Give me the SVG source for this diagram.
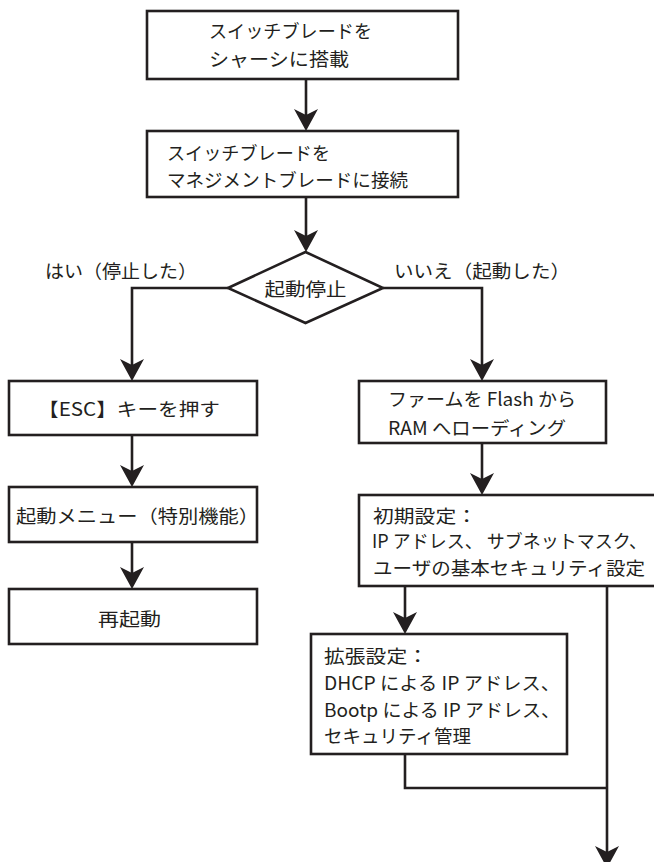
<svg xmlns="http://www.w3.org/2000/svg" width="654" height="862" viewBox="0 0 654 862">
<style>
.box{fill:#fff;stroke:#231f20;stroke-width:2.6}
.t{font-family:"Noto Sans CJK JP","Noto Sans",sans-serif;font-size:18.5px;fill:#231f20}
.c{fill:none;stroke:#231f20;stroke-width:2.6}
</style>
<defs>
<marker id="ah" markerUnits="userSpaceOnUse" viewBox="-12 -13 26 26" markerWidth="26" markerHeight="26" refX="0" refY="0" orient="auto">
<path d="M12,0 L-10,-12 L-4,0 L-10,12 Z" fill="#231f20"/>
</marker>
</defs>
<rect width="654" height="862" fill="#fff"/>
<g id="connectors">
<path class="c" d="M306,79 V119" marker-end="url(#ah)"/>
<path class="c" d="M306,197 V240" marker-end="url(#ah)"/>
<path class="c" d="M228,288 H132 V369" marker-end="url(#ah)"/>
<path class="c" d="M383,288 H482 V369" marker-end="url(#ah)"/>
<path class="c" d="M132,435 V475" marker-end="url(#ah)"/>
<path class="c" d="M132,542 V577" marker-end="url(#ah)"/>
<path class="c" d="M482,443 V483" marker-end="url(#ah)"/>
<path class="c" d="M405,586 V622" marker-end="url(#ah)"/>
<path class="c" d="M607,586 V856" marker-end="url(#ah)"/>
<path class="c" d="M405,754 V788 H607"/>
</g>
<g id="n1"><rect class="box" x="147" y="11" width="311" height="68"/>
<text class="t" x="209" y="37.5" textLength="163" lengthAdjust="spacingAndGlyphs">スイッチブレードを</text>
<text class="t" x="209" y="65.5" textLength="140" lengthAdjust="spacingAndGlyphs">シャーシに搭載</text></g>
<g id="n2"><rect class="box" x="147" y="131" width="311" height="66"/>
<text class="t" x="167" y="160" textLength="163" lengthAdjust="spacingAndGlyphs">スイッチブレードを</text>
<text class="t" x="167" y="187" textLength="241" lengthAdjust="spacingAndGlyphs">マネジメントブレードに接続</text></g>
<g id="n3"><path class="box" d="M228,288 L305.5,252 L383,288 L305.5,323 Z"/>
<text class="t" x="305.5" y="296" text-anchor="middle" textLength="82" lengthAdjust="spacingAndGlyphs">起動停止</text></g>
<g id="l1"><text class="t" x="45" y="277.5" textLength="152" lengthAdjust="spacingAndGlyphs">はい（停止した）</text></g>
<g id="l2"><text class="t" x="394" y="277.5" textLength="176" lengthAdjust="spacingAndGlyphs">いいえ（起動した）</text></g>
<g id="n4"><rect class="box" x="9" y="381" width="248" height="54"/>
<text class="t" x="38" y="416" textLength="182" lengthAdjust="spacingAndGlyphs">【ESC】キーを押す</text></g>
<g id="n5"><rect class="box" x="9" y="487" width="248" height="55"/>
<text class="t" x="16" y="522.5" textLength="243" lengthAdjust="spacingAndGlyphs">起動メニュー（特別機能）</text></g>
<g id="n6"><rect class="box" x="9" y="589" width="248" height="55"/>
<text class="t" x="98" y="625.5" textLength="63" lengthAdjust="spacingAndGlyphs">再起動</text></g>
<g id="n7"><rect class="box" x="359" y="381" width="247" height="62"/>
<text class="t" x="388" y="406" textLength="188" lengthAdjust="spacingAndGlyphs">ファームを Flash から</text>
<text class="t" x="388" y="435" textLength="178" lengthAdjust="spacingAndGlyphs">RAM へローディング</text></g>
<g id="n8"><rect class="box" x="359" y="495" width="340" height="91"/>
<text class="t" x="373" y="522.5" textLength="104" lengthAdjust="spacingAndGlyphs">初期設定：</text>
<text class="t" x="372" y="548" textLength="275" lengthAdjust="spacingAndGlyphs">IP アドレス、 サブネットマスク、</text>
<text class="t" x="373" y="575" textLength="272" lengthAdjust="spacingAndGlyphs">ユーザの基本セキュリティ設定</text></g>
<g id="n9"><rect class="box" x="311" y="634" width="256" height="120"/>
<text class="t" x="324" y="663" textLength="104" lengthAdjust="spacingAndGlyphs">拡張設定：</text>
<text class="t" x="324" y="690" textLength="236" lengthAdjust="spacingAndGlyphs">DHCP による IP アドレス、</text>
<text class="t" x="324" y="717" textLength="236" lengthAdjust="spacingAndGlyphs">Bootp による IP アドレス、</text>
<text class="t" x="324" y="743" textLength="147" lengthAdjust="spacingAndGlyphs">セキュリティ管理</text></g>
</svg>
